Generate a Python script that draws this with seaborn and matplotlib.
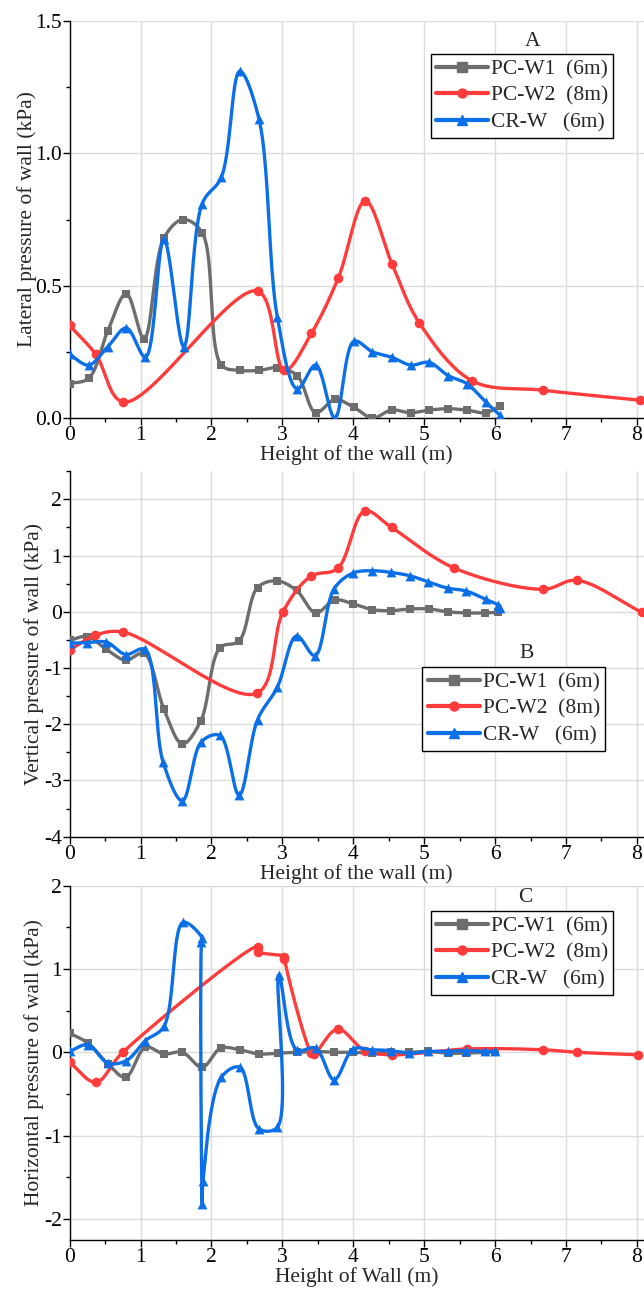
import numpy as np
import matplotlib
matplotlib.use("Agg")
import matplotlib.pyplot as plt
from matplotlib.lines import Line2D
from matplotlib.ticker import MultipleLocator
import seaborn as sns

# ---- data (x = height of wall in m, y = pressure in kPa) ----
A_W1_X = [0, 0.27, 0.54, 0.80, 1.05, 1.33, 1.60, 1.87, 2.14, 2.40, 2.67, 2.93, 3.21, 3.47,
          3.74, 4.01, 4.27, 4.54, 4.81, 5.07, 5.34, 5.60, 5.87, 6.07]
A_W1_Y = [0.13, 0.15, 0.33, 0.47, 0.30, 0.68, 0.75, 0.70, 0.20, 0.18, 0.18, 0.19, 0.16, 0.02,
          0.07, 0.04, 0.00, 0.03, 0.02, 0.03, 0.035, 0.03, 0.02, 0.045]
A_W2_X = [0, 0.37, 0.76, 2.65, 3.03, 3.41, 3.79, 4.17, 4.55, 4.93, 5.68, 6.67, 8.05]
A_W2_Y = [0.35, 0.24, 0.06, 0.48, 0.18, 0.32, 0.53, 0.82, 0.58, 0.36, 0.14, 0.105, 0.067]
A_CR_X = [0, 0.27, 0.54, 0.80, 1.07, 1.33, 1.61, 1.87, 2.14, 2.40, 2.67, 2.93, 3.21, 3.47,
          3.74, 4.01, 4.27, 4.54, 4.81, 5.07, 5.34, 5.60, 5.87, 6.07]
A_CR_Y = [0.24, 0.20, 0.27, 0.34, 0.23, 0.675, 0.27, 0.81, 0.91, 1.31, 1.13, 0.38, 0.11, 0.20,
          0.00, 0.29, 0.25, 0.23, 0.20, 0.21, 0.16, 0.13, 0.06, 0.01]

B_W1_X = [0, 0.25, 0.52, 0.79, 1.05, 1.33, 1.59, 1.85, 2.12, 2.39, 2.65, 2.92, 3.20, 3.47,
          3.74, 4.00, 4.26, 4.53, 4.80, 5.07, 5.33, 5.60, 5.86, 6.04]
B_W1_Y = [-0.51, -0.44, -0.67, -0.86, -0.74, -1.73, -2.35, -1.94, -0.64, -0.52, 0.43, 0.55,
          0.38, -0.02, 0.21, 0.14, 0.04, 0.02, 0.05, 0.05, 0.0, -0.02, -0.02, -0.01]
B_W2_X = [0, 0.36, 0.75, 2.64, 3.01, 3.40, 3.78, 4.16, 4.54, 5.42, 6.68, 7.15, 8.07]
B_W2_Y = [-0.68, -0.42, -0.36, -1.45, 0.0, 0.63, 0.77, 1.79, 1.50, 0.78, 0.40, 0.56, -0.01]
B_CR_X = [0, 0.25, 0.52, 0.79, 1.06, 1.32, 1.59, 1.86, 2.12, 2.39, 2.65, 2.93, 3.20, 3.46,
          3.73, 4.00, 4.27, 4.53, 4.80, 5.06, 5.33, 5.59, 5.87, 6.04, 6.07]
B_CR_Y = [-0.56, -0.55, -0.54, -0.76, -0.67, -2.68, -3.36, -2.31, -2.20, -3.26, -1.92, -1.34,
          -0.43, -0.78, 0.41, 0.69, 0.73, 0.70, 0.64, 0.53, 0.42, 0.37, 0.22, 0.12, 0.06]

C_W1_X = [0, 0.26, 0.54, 0.79, 1.07, 1.33, 1.59, 1.87, 2.13, 2.40, 2.67, 2.94, 3.20, 3.47,
          3.73, 4.00, 4.26, 4.53, 4.79, 5.06, 5.33, 5.59, 5.86, 6.00]
C_W1_Y = [0.23, 0.11, -0.14, -0.30, 0.06, -0.02, 0.00, -0.18, 0.05, 0.03, -0.02, -0.01, 0.00,
          0.01, 0.00, 0.00, -0.01, 0.00, 0.00, 0.01, -0.01, -0.01, 0.00, 0.00]
C_W2_X = [0, 0.37, 0.75, 2.65, 2.65, 3.03, 3.03, 3.41, 3.45, 3.78, 4.16, 4.54, 5.60, 6.68,
          7.16, 8.02]
C_W2_Y = [-0.12, -0.36, 0.0, 1.27, 1.21, 1.15, 1.12, -0.01, -0.02, 0.28, 0.02, -0.03, 0.04,
          0.03, 0.0, -0.03]
C_CR_X = [0, 0.26, 0.54, 0.80, 1.07, 1.33, 1.60, 1.87, 1.86, 1.87, 1.88, 2.14, 2.40, 2.67,
          2.93, 2.95, 3.20, 3.47, 3.73, 4.00, 4.26, 4.53, 4.79, 5.06, 5.33, 5.59, 5.86, 6.00]
C_CR_Y = [0.01, 0.09, -0.13, -0.10, 0.14, 0.31, 1.56, 1.37, 1.33, -1.82, -1.55, -0.30, -0.18,
          -0.92, -0.90, 0.93, 0.03, 0.05, -0.33, 0.04, 0.03, 0.02, -0.01, 0.01, 0.01, 0.02,
          0.01, 0.01]

LABELS = ["PC-W1  (6m)", "PC-W2  (8m)", "CR-W   (6m)"]
COLORS = ["#6d6d6d", "#ff3b3b", "#0b6fe8"]
MARKERS = ["s", "o", "^"]
SIZES = [38, 48, 50]


def spline(x, y, sx, sy, n=24):
    # centripetal catmull-rom through the points (Origin style "spline" connection)
    P = np.column_stack([np.asarray(x, float) * sx, np.asarray(y, float) * sy])
    P = np.vstack([2 * P[0] - P[1], P, 2 * P[-1] - P[-2]])
    out = [P[1]]
    for i in range(1, len(P) - 2):
        p0, p1, p2, p3 = P[i - 1], P[i], P[i + 1], P[i + 2]
        t0 = 0.0
        t1 = t0 + max(np.linalg.norm(p1 - p0), 1e-6) ** 0.5
        t2 = t1 + max(np.linalg.norm(p2 - p1), 1e-6) ** 0.5
        t3 = t2 + max(np.linalg.norm(p3 - p2), 1e-6) ** 0.5
        t = np.linspace(t1, t2, n)[1:, None]
        a1 = (t1 - t) / (t1 - t0) * p0 + (t - t0) / (t1 - t0) * p1
        a2 = (t2 - t) / (t2 - t1) * p1 + (t - t1) / (t2 - t1) * p2
        a3 = (t3 - t) / (t3 - t2) * p2 + (t - t2) / (t3 - t2) * p3
        b1 = (t2 - t) / (t2 - t0) * a1 + (t - t0) / (t2 - t0) * a2
        b2 = (t3 - t) / (t3 - t1) * a2 + (t - t1) / (t3 - t1) * a3
        c = (t2 - t) / (t2 - t1) * b1 + (t - t1) / (t2 - t1) * b2
        out.extend(c)
    out = np.array(out)
    return out[:, 0] / sx, out[:, 1] / sy


sns.set_theme(style="whitegrid", rc={
    "axes.edgecolor": "black", "axes.linewidth": 1.0,
    "grid.color": "#dcdcdc", "grid.linewidth": 1.0,
    "xtick.bottom": True, "ytick.left": True,
    "xtick.direction": "out", "ytick.direction": "out",
    "xtick.color": "black", "ytick.color": "black",
})
plt.rcParams["font.family"] = ["Liberation Serif", "DejaVu Serif"]

FS = 15.5
fig = plt.figure(figsize=(6.44, 12.91), dpi=100)
W, H = 644.0, 1291.0
x0 = 69.6

panels = [
    dict(top=21, bottom=418, ylim=(0, 1.5), yt=[0, 0.5, 1.0, 1.5], ymin=0.25, yfmt="{:.1f}",
         ylabel="Lateral pressure of wall (kPa)", xlabel="Height of the wall (m)", sy=264.7,
         series=[(A_W1_X, A_W1_Y), (A_W2_X, A_W2_Y), (A_CR_X, A_CR_Y)],
         tag="A", tag_xy=(533, 42), leg_xy=(430.5, 54), ylab_x=37),
    dict(top=471.2, bottom=836.7, ylim=(-4, 2.5), yt=[-4, -3, -2, -1, 0, 1, 2], ymin=0.5,
         yfmt="{:d}", ylabel="Vertical pressure of wall (kPa)", xlabel="Height of the wall (m)",
         sy=56.3, series=[(B_W1_X, B_W1_Y), (B_W2_X, B_W2_Y), (B_CR_X, B_CR_Y)],
         tag="B", tag_xy=(527, 654), leg_xy=(422.5, 667), ylab_x=44),
    dict(top=885.7, bottom=1239.7, ylim=(-2.25, 2), yt=[-2, -1, 0, 1, 2], ymin=0.5,
         yfmt="{:d}", ylabel="Horizontal pressure of wall (kPa)", xlabel="Height of Wall (m)",
         sy=83.3, series=[(C_W1_X, C_W1_Y), (C_W2_X, C_W2_Y), (C_CR_X, C_CR_Y)],
         tag="C", tag_xy=(525, 898), leg_xy=(430.5, 911), ylab_x=44),
]

for p in panels:
    ax = fig.add_axes([x0 / W, 1 - p["bottom"] / H, 1 - x0 / W, (p["bottom"] - p["top"]) / H])
    for k, (xs, ys) in enumerate(p["series"]):
        cx, cy = spline(xs, ys, 70.9, p["sy"])
        sns.lineplot(x=cx, y=cy, sort=False, estimator=None, color=COLORS[k], lw=2.4,
                     ax=ax, zorder=3 + k)
        sns.scatterplot(x=xs, y=ys, marker=MARKERS[k], s=SIZES[k], color=COLORS[k],
                        linewidth=0, ax=ax, zorder=3 + k)
    ax.set_xlim(0, 8.1)
    ax.set_ylim(*p["ylim"])
    ax.set_xticks(range(0, 9))
    ax.xaxis.set_minor_locator(MultipleLocator(0.5))
    ax.set_yticks(p["yt"])
    ax.set_yticklabels([p["yfmt"].format(v) for v in p["yt"]])
    ax.yaxis.set_minor_locator(MultipleLocator(p["ymin"]))
    ax.tick_params(which="major", length=5, width=1, labelsize=FS)
    ax.tick_params(axis="x", which="major", pad=1)
    ax.tick_params(axis="y", which="major", pad=0.5)
    ax.tick_params(which="minor", length=3, width=1)
    ax.grid(True, which="major")
    ax.grid(False, which="minor")
    for s in ["top", "right"]:
        ax.spines[s].set_visible(False)
    ax.set_xlabel(p["xlabel"], fontsize=FS, labelpad=0)
    ax.set_ylabel(p["ylabel"], fontsize=FS)
    ax.yaxis.set_label_coords((p["ylab_x"] - x0) / (W - x0), 0.5)

    handles = [Line2D([], [], color=COLORS[k], lw=3, marker=MARKERS[k], markersize=6.5)
               for k in range(3)]
    leg = ax.legend(handles, LABELS, loc="upper left",
                    bbox_to_anchor=(p["leg_xy"][0] / W, 1 - p["leg_xy"][1] / H),
                    bbox_transform=fig.transFigure, borderaxespad=0, frameon=True,
                    fancybox=False, framealpha=1, edgecolor="black", fontsize=FS,
                    borderpad=0.25, labelspacing=0.3, handlelength=2.4, handletextpad=0.15)
    leg.get_frame().set_linewidth(1.0)
    leg.set_zorder(10)
    fig.text(p["tag_xy"][0] / W, 1 - p["tag_xy"][1] / H, p["tag"], fontsize=FS,
             ha="center", va="center")

fig.savefig("out.png", dpi=100)
